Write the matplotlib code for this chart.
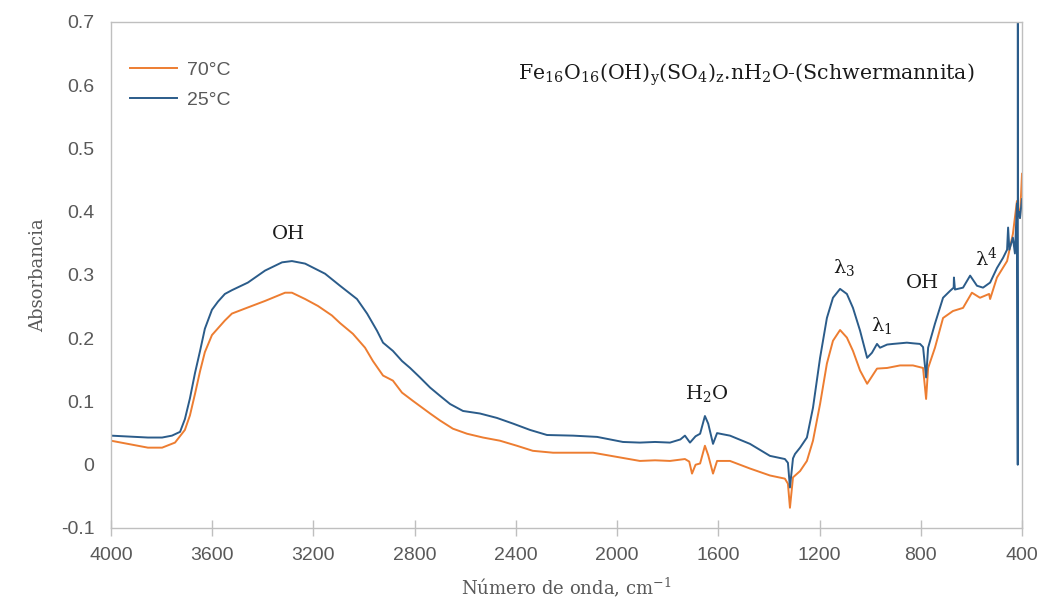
"""
Espectro FTIR de schwermannita a 25 °C y 70 °C (absorbancia vs número de onda).
"""

import matplotlib
matplotlib.use("Agg")
import matplotlib.pyplot as plt

matplotlib.rcParams["font.family"] = ["Liberation Sans", "DejaVu Sans"]
matplotlib.rcParams["mathtext.fontset"] = "dejavuserif"

# 25 °C (azul)
WN_25 = [4000, 3854, 3798, 3759, 3727, 3708, 3688, 3668, 3648, 3629, 3601, 3577,
         3550, 3522, 3459, 3391, 3324, 3285, 3233, 3154, 3095, 3028, 2988, 2949,
         2925, 2886, 2850, 2818, 2779, 2739, 2700, 2660, 2609, 2542, 2475, 2411,
         2344, 2277, 2174, 2079, 1977, 1910, 1850, 1791, 1750, 1732, 1712, 1690,
         1672, 1653, 1640, 1621, 1605, 1580, 1554, 1475, 1396, 1337, 1325, 1317,
         1305, 1297, 1277, 1250, 1226, 1198, 1171, 1147, 1119, 1092, 1068, 1040,
         1012, 993, 973, 961, 933, 910, 882, 855, 831, 803, 791, 779, 771, 744,
         712, 684, 670, 669, 665, 633, 605, 578, 554, 526, 499, 475, 459, 455,
         450, 436, 428, 420, 416.8, 416.4, 416, 412, 408, 400]
ABS_25 = [0.046, 0.043, 0.043, 0.046, 0.052, 0.072, 0.105, 0.145, 0.180, 0.215,
          0.245, 0.258, 0.270, 0.276, 0.288, 0.307, 0.320, 0.322, 0.318, 0.302,
          0.283, 0.262, 0.239, 0.212, 0.193, 0.180, 0.164, 0.153, 0.138, 0.122,
          0.109, 0.096, 0.085, 0.081, 0.074, 0.065, 0.055, 0.047, 0.046, 0.044,
          0.036, 0.035, 0.036, 0.035, 0.040, 0.046, 0.035, 0.045, 0.049, 0.077,
          0.065, 0.033, 0.050, 0.048, 0.046, 0.033, 0.014, 0.009, 0.003, -0.036,
          0.010, 0.017, 0.027, 0.043, 0.090, 0.169, 0.232, 0.264, 0.278, 0.270,
          0.248, 0.212, 0.169, 0.177, 0.191, 0.185, 0.190, 0.191, 0.192, 0.193,
          0.192, 0.191, 0.186, 0.138, 0.185, 0.223, 0.264, 0.275, 0.280, 0.296,
          0.277, 0.280, 0.299, 0.283, 0.280, 0.288, 0.311, 0.327, 0.340, 0.375,
          0.340, 0.359, 0.334, 0.413, 0.000, 0.750, 0.400, 0.400, 0.390, 0.420]

# 70 °C (naranja)
WN_70 = [4000, 3854, 3798, 3747, 3708, 3688, 3668, 3648, 3629, 3601, 3550, 3522,
         3470, 3391, 3312, 3285, 3233, 3182, 3127, 3095, 3044, 2996, 2965, 2925,
         2886, 2850, 2807, 2739, 2700, 2649, 2593, 2530, 2463, 2396, 2333, 2253,
         2095, 1910, 1850, 1791, 1732, 1715, 1704, 1690, 1672, 1653, 1640, 1621,
         1605, 1554, 1475, 1396, 1337, 1325, 1317, 1305, 1277, 1250, 1226, 1198,
         1171, 1147, 1119, 1092, 1068, 1040, 1012, 973, 933, 882, 831, 791, 779,
         771, 744, 712, 673, 633, 598, 566, 530, 526, 499, 459, 436, 420, 408, 400]
ABS_70 = [0.038, 0.027, 0.027, 0.035, 0.055, 0.078, 0.112, 0.148, 0.178, 0.205,
          0.228, 0.239, 0.247, 0.259, 0.272, 0.272, 0.262, 0.251, 0.236, 0.224,
          0.207, 0.185, 0.164, 0.141, 0.133, 0.114, 0.101, 0.081, 0.070, 0.057,
          0.049, 0.043, 0.038, 0.030, 0.022, 0.019, 0.019, 0.006, 0.007, 0.006,
          0.009, 0.005, -0.014, 0.000, 0.002, 0.030, 0.015, -0.014, 0.006, 0.006,
          -0.006, -0.017, -0.022, -0.030, -0.068, -0.020, -0.010, 0.006, 0.038,
          0.096, 0.160, 0.196, 0.213, 0.201, 0.180, 0.149, 0.128, 0.152, 0.153,
          0.157, 0.157, 0.153, 0.104, 0.153, 0.185, 0.232, 0.243, 0.248, 0.272,
          0.264, 0.270, 0.262, 0.296, 0.322, 0.365, 0.417, 0.390, 0.460]

X_TICKS = [4000, 3600, 3200, 2800, 2400, 2000, 1600, 1200, 800, 400]
Y_TICKS = [-0.1, 0, 0.1, 0.2, 0.3, 0.4, 0.5, 0.6, 0.7]
Y_TICKLABELS = ["-0.1", "0", "0.1", "0.2", "0.3", "0.4", "0.5", "0.6", "0.7"]

# etiquetas de bandas: (texto, número de onda, absorbancia)
BANDS = [
    ("OH", 3297, 0.365),
    (r"H$_{2}$O", 1645, 0.112),
    (r"λ$_{3}$", 1105, 0.312),
    (r"λ$_{1}$", 955, 0.220),
    ("OH", 795, 0.288),
    (r"λ$^{4}$", 540, 0.327),
]

ORANGE = "#ED7D31"
BLUE = "#2B5C8A"
GRAY = "#595959"
FRAME = "#BFBFBF"
SERIF = ["DejaVu Serif"]

fig = plt.figure(figsize=(10.45, 6.01), dpi=100)
ax = fig.add_axes([0.1062, 0.1215, 0.8718, 0.8419])

ax.plot(WN_70, ABS_70, color=ORANGE, linewidth=1.4, label="70°C")
ax.plot(WN_25, ABS_25, color=BLUE, linewidth=1.4, label="25°C")

ax.set_xlim(4000, 400)
ax.set_ylim(-0.1, 0.7)
ax.set_xticks(X_TICKS)
ax.set_yticks(Y_TICKS)
ax.set_yticklabels(Y_TICKLABELS)
ax.tick_params(axis="x", direction="inout", length=12, width=1, color=FRAME,
               labelsize=14, labelcolor=GRAY, pad=8)
ax.tick_params(axis="y", length=0, labelsize=14, labelcolor=GRAY, pad=12)
for side in ("top", "bottom", "left", "right"):
    ax.spines[side].set_color(FRAME)
    ax.spines[side].set_linewidth(1.0)

ax.set_xlabel(r"Número de onda, cm$^{-1}$", family=SERIF, fontsize=13,
              color=GRAY, labelpad=8)
ax.set_ylabel("Absorbancia", family=SERIF, fontsize=13, color=GRAY, labelpad=10)

for label, wn, val in BANDS:
    ax.text(wn, val, label, family=SERIF, fontsize=14, color="#1a1a1a",
            ha="center", va="center")

ax.text(0.948, 0.895,
        r"Fe$_{16}$O$_{16}$(OH)$_{\mathrm{y}}$(SO$_{4}$)$_{\mathrm{z}}$.nH$_{2}$O-(Schwermannita)",
        transform=ax.transAxes, family=SERIF, fontsize=14.8, color="#1a1a1a",
        ha="right", va="center")

leg = ax.legend(loc="upper left", bbox_to_anchor=(0.0, 0.96), frameon=False,
                handlelength=2.4, handletextpad=0.5, labelspacing=0.6,
                fontsize=14, borderaxespad=0.6)
for txt in leg.get_texts():
    txt.set_color(GRAY)

fig.savefig("out.png", dpi=100, facecolor="white")
